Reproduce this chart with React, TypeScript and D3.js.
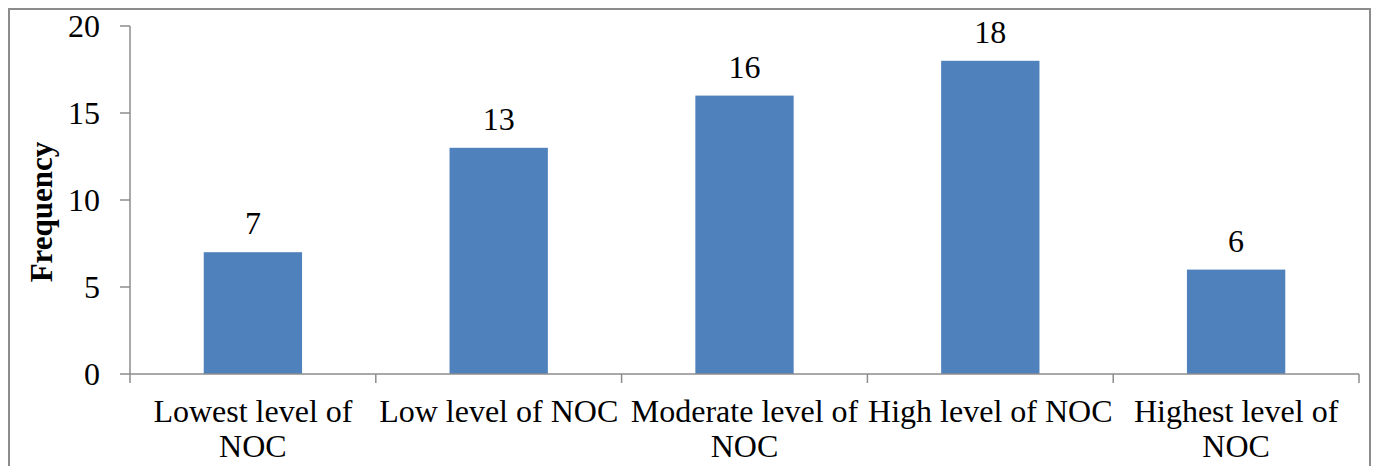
import React, { useEffect, useRef } from 'react'
import * as d3 from 'd3'

const categories = [
    ['Lowest level of', 'NOC'],
    ['Low level of NOC'],
    ['Moderate level of', 'NOC'],
    ['High level of NOC'],
    ['Highest level of', 'NOC'],
]
const values = [7, 13, 16, 18, 6]
const yTicks = [0, 5, 10, 15, 20]

const W = 1379
const H = 466

export default function App() {
    const svgRef = useRef<SVGSVGElement>(null)

    useEffect(() => {
        if (!svgRef.current) return
        const svg = d3.select(svgRef.current)
        svg.selectAll('*').remove()

        const axisColor = '#8c8c8c'

        // outer frame (bottom edge falls outside the picture)
        svg.append('rect')
            .attr('x', 9).attr('y', 9)
            .attr('width', 1361).attr('height', 480)
            .attr('fill', '#fff')
            .attr('stroke', axisColor)
            .attr('stroke-width', 2)

        const plot = { left: 130, right: 1359, top: 26, bottom: 374 }
        const keys = categories.map((c, i) => String(i))

        const x = d3.scaleBand()
            .domain(keys)
            .range([plot.left, plot.right])
            .paddingInner(0.6)
            .paddingOuter(0.3)

        const y = d3.scaleLinear().domain([0, 20]).range([plot.bottom, plot.top])

        const g = svg.append('g')
            .attr('font-family', 'Liberation Serif, DejaVu Serif, serif')
            .attr('font-size', 32)
            .attr('fill', '#000')

        // y axis
        g.append('line')
            .attr('x1', plot.left).attr('x2', plot.left)
            .attr('y1', y(20)).attr('y2', y(0))
            .attr('stroke', axisColor).attr('stroke-width', 1.5)

        g.selectAll('.ytick')
            .data(yTicks)
            .enter().append('line')
            .attr('x1', plot.left - 10).attr('x2', plot.left)
            .attr('y1', d => y(d)).attr('y2', d => y(d))
            .attr('stroke', axisColor).attr('stroke-width', 1.5)

        g.selectAll('.ylab')
            .data(yTicks)
            .enter().append('text')
            .attr('x', plot.left - 30)
            .attr('y', d => y(d))
            .attr('dy', '0.33em')
            .attr('text-anchor', 'end')
            .text(d => d)

        // bars
        g.selectAll('.bar')
            .data(values)
            .enter().append('rect')
            .attr('x', (d, i) => x(keys[i])!)
            .attr('y', d => y(d))
            .attr('width', x.bandwidth())
            .attr('height', d => y(0) - y(d))
            .attr('fill', '#4F81BD')

        g.selectAll('.val')
            .data(values)
            .enter().append('text')
            .attr('x', (d, i) => x(keys[i])! + x.bandwidth() / 2)
            .attr('y', d => y(d) - 18)
            .attr('text-anchor', 'middle')
            .text(d => d)

        // x axis
        g.append('line')
            .attr('x1', plot.left).attr('x2', plot.right)
            .attr('y1', y(0)).attr('y2', y(0))
            .attr('stroke', axisColor).attr('stroke-width', 1.5)

        const step = x.step()
        const edges = d3.range(categories.length + 1).map(i => plot.left + i * step)
        g.selectAll('.xtick')
            .data(edges)
            .enter().append('line')
            .attr('x1', d => d).attr('x2', d => d)
            .attr('y1', y(0)).attr('y2', y(0) + 9)
            .attr('stroke', axisColor).attr('stroke-width', 1.5)

        const labels = g.selectAll('.xlab')
            .data(categories)
            .enter().append('text')
            .attr('text-anchor', 'middle')
            .attr('y', 422)

        labels.each(function (lines, i) {
            const cx = x(keys[i])! + x.bandwidth() / 2
            lines.forEach((line, j) => {
                d3.select(this).append('tspan')
                    .attr('x', cx)
                    .attr('dy', j === 0 ? 0 : 35)
                    .text(line)
            })
        })

        // y title
        g.append('text')
            .attr('transform', `translate(52, 212) rotate(-90)`)
            .attr('text-anchor', 'middle')
            .attr('font-size', 31)
            .attr('font-weight', 'bold')
            .text('Frequency')
    }, [])

    return (
        <svg
            ref={svgRef}
            width={W}
            height={H}
            viewBox={`0 0 ${W} ${H}`}
            style={{ position: 'absolute', left: 0, top: 0, background: '#fff' }}
        />
    )
}
